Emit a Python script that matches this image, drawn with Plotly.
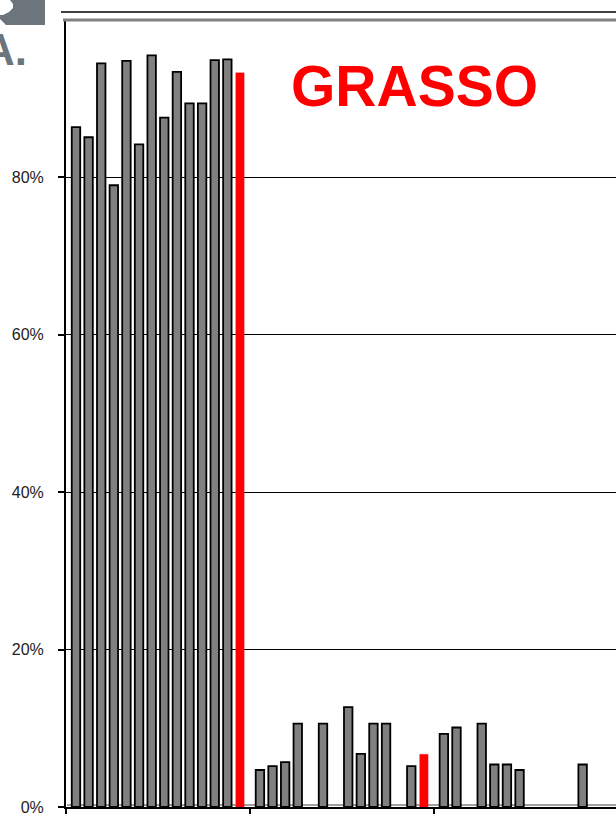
import plotly.graph_objects as go

# Categories (x-axis labels are outside the visible crop)
categories = ["Gruppo 1", "Gruppo 2", "Gruppo 3"]

# Values per category: 13 grey samples followed by the red reference bar (None = no bar)
group1 = [0.864, 0.851, 0.945, 0.790, 0.948, 0.842, 0.955, 0.876, 0.934, 0.894, 0.894, 0.949, 0.950, 0.933]
group2 = [0.047, 0.052, 0.057, 0.106, None, 0.106, None, 0.127, 0.0675, 0.106, 0.106, None, 0.052, 0.067]
group3 = [0.093, 0.101, None, 0.106, 0.054, 0.054, 0.047, None, None, None, None, 0.054, None, None]

series_names = [f"Campione {i + 1}" for i in range(13)] + ["Riferimento"]

y_tick_values = [0, 0.2, 0.4, 0.6, 0.8]
y_tick_labels = ["0%", "20%", "40%", "60%", "80%"]

title_text = "GRASSO"

W, H = 616, 816
L, R, T, B = 66, 0, 20, 6
PW, PH = W - L - R, H - T - B


def px_x(px):
    return (px - L) / PW


def px_y(py):
    return (H - B - py) / PH


def poly(points):
    return "M " + " L ".join(f"{px_x(a)} {px_y(b)}" for a, b in points) + " Z"


fig = go.Figure()
for i, name in enumerate(series_names):
    vals = [group1[i], group2[i], group3[i]]
    is_ref = i == len(series_names) - 1
    fig.add_trace(go.Bar(
        x=categories,
        y=vals,
        name=name,
        marker=dict(
            color="#ff0000" if is_ref else "#808080",
            line=dict(color="rgba(255,0,0,0.25)" if is_ref else "#000000", width=1.2 if is_ref else 1.8),
        ),
        showlegend=False,
    ))

fig.update_layout(
    width=W,
    height=H,
    margin=dict(l=L, r=R, t=T, b=B, pad=0),
    paper_bgcolor="white",
    plot_bgcolor="white",
    barmode="group",
    bargap=0.04,
    bargroupgap=0.33,
    font=dict(family="Liberation Sans, Arial, sans-serif", color="#222222"),
    xaxis=dict(
        range=[-0.5, 2.49],
        showgrid=False,
        showline=True,
        linecolor="#000000",
        linewidth=2,
        ticks="outside",
        tickson="boundaries",
        ticklen=5,
        tickcolor="#000000",
        tickwidth=1.5,
        showticklabels=False,
        zeroline=False,
    ),
    yaxis=dict(
        range=[0, 1],
        tickvals=y_tick_values,
        ticktext=y_tick_labels,
        showgrid=True,
        gridcolor="#000000",
        gridwidth=1,
        showline=True,
        linecolor="#000000",
        linewidth=2,
        ticks="outside",
        ticklen=6,
        tickcolor="#000000",
        tickwidth=1.5,
        ticklabelstandoff=11,
        ticklabeloverflow="allow",
        tickfont=dict(size=16, color="#222222"),
        zeroline=False,
    ),
    shapes=[
        # grey top border of the plot area (100%)
        dict(type="line", xref="paper", yref="paper", x0=px_x(63), x1=1, y0=1, y1=1,
             line=dict(color="#808080", width=3)),
        # grey bottom border just above the black axis line
        dict(type="line", xref="paper", yref="paper", ysizemode="pixel", yanchor=0,
             x0=px_x(67), x1=1, y0=2, y1=2, line=dict(color="#808080", width=1.5), layer="below"),
        # thin black line above the chart
        dict(type="line", xref="paper", yref="paper", x0=px_x(61), x1=1, y0=px_y(12), y1=px_y(12),
             line=dict(color="#000000", width=1.5)),
        # grey logo fragment, top-left
        dict(type="rect", xref="paper", yref="paper", x0=px_x(0), x1=px_x(45), y0=px_y(25), y1=px_y(0),
             line=dict(width=0), fillcolor="#6c757c", layer="above"),
        dict(type="path", xref="paper", yref="paper",
             path=poly([(0, 0), (10, 0), (13, 4), (13, 8), (9, 12), (3, 15), (0, 15)]),
             line=dict(width=0), fillcolor="white", layer="above"),
        dict(type="path", xref="paper", yref="paper",
             path=poly([(0, 19), (6, 25), (0, 25)]),
             line=dict(width=0), fillcolor="white", layer="above"),
    ],
    annotations=[
        dict(text=f"<b>{title_text}</b>", xref="paper", yref="paper", x=px_x(414.5), y=px_y(86),
             xanchor="center", yanchor="middle", showarrow=False,
             font=dict(size=57, color="#ff0000", family="Liberation Sans, Arial, sans-serif")),
        dict(text="<b>A.</b>", xref="paper", yref="paper", x=px_x(29), y=px_y(50),
             xanchor="right", yanchor="middle", showarrow=False,
             font=dict(size=44, color="#6c757c", family="Liberation Sans, Arial, sans-serif")),
    ],
)

fig.write_html("out.html", config={"displayModeBar": False},
               post_script="document.body.style.margin='0';")
